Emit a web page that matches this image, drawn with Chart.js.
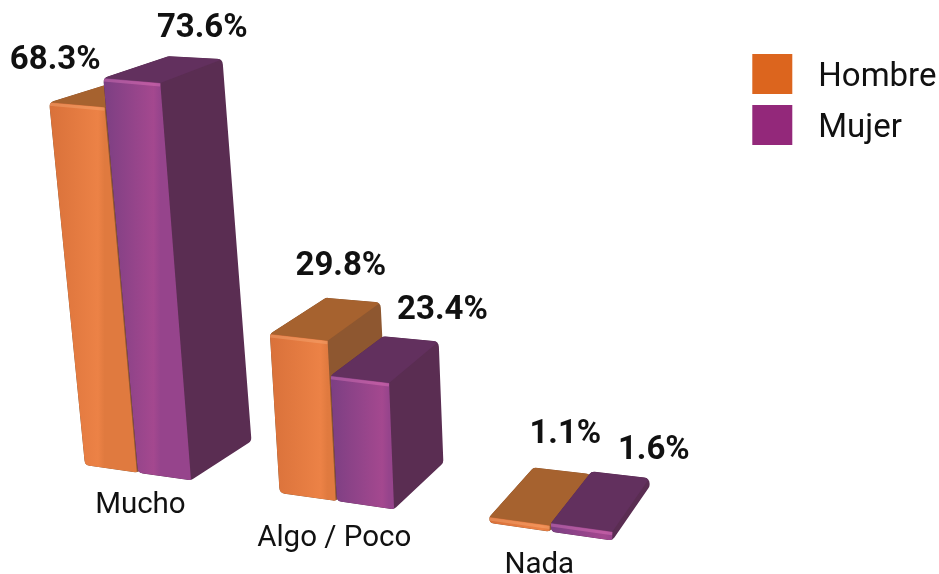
<!DOCTYPE html>
<html>
<head>
<meta charset="utf-8">
<title>Mucho / Algo / Nada</title>
<script src="https://cdn.jsdelivr.net/npm/chart.js@4/dist/chart.umd.js"></script>
<style>
  html, body { margin: 0; background: #fff; }
  canvas { display: block; }
</style>
</head>
<body>
<canvas id="chart" width="939" height="574"></canvas>
<script>
// Data
const categories = ['Mucho', 'Algo / Poco', 'Nada'];
const hombre = [68.3, 29.8, 1.1];
const mujer = [73.6, 23.4, 1.6];

// Colours
const legendColors = ['#dc651e', '#93287a'];
const faces = [
  { top: '#a6622f', side: '#8e5730', left: '#d9713a', right: '#ec8246', edge: '#e07a3f', glow: 'rgba(255,190,140,0.3)' },
  { top: '#62305e', side: '#5a2d52', left: '#7c3f83', right: '#a4488f', edge: '#96448c', glow: 'rgba(240,130,200,0.35)' }
];

// Fake perspective, applied on top of the scale pixels
const SHEAR = 0.143;      // floor line falls to the right
const LEAN = 0.115;       // verticals lean left...
const LEAN_FADE = 0.00019; // ...less and less further right
const warpX = (x) => x + 0.000178 * (x - 137) * (x - 548);

function floorPoint(x, zeroY) {
  const sx = warpX(x);
  return { x: sx, y: zeroY + SHEAR * sx };
}

function lift(p, h) {
  return {
    x: p.x - h * (LEAN - LEAN_FADE * p.x),
    y: p.y - h * (1 + 0.00013 * (p.x - 200) + 0.0001 * (h - 190))
  };
}

function back(p) {
  return {
    x: p.x + 71 - 0.055 * p.x,
    y: p.y - (15.9 + 0.03 * p.x + 0.0366 * p.y)
  };
}

function barCorners(bar) {
  const h = bar.base - bar.y;
  const fl = floorPoint(bar.x - bar.width / 2, bar.base);
  const fr = floorPoint(bar.x + bar.width / 2, bar.base);
  const tl = lift(fl, h);
  const tr = lift(fr, h);
  return { fl, fr, tl, tr, btl: back(tl), btr: back(tr), bbr: back(fr) };
}

function poly(ctx, pts) {
  ctx.beginPath();
  pts.forEach((p, i) => (i ? ctx.lineTo(p.x, p.y) : ctx.moveTo(p.x, p.y)));
  ctx.closePath();
}

function roundedPoly(ctx, pts, r) {
  const n = pts.length;
  const last = pts[n - 1];
  ctx.beginPath();
  ctx.moveTo((last.x + pts[0].x) / 2, (last.y + pts[0].y) / 2);
  pts.forEach((p, i) => {
    const next = pts[(i + 1) % n];
    ctx.arcTo(p.x, p.y, next.x, next.y, r);
  });
  ctx.closePath();
}

function drawBar(ctx, bar, look) {
  const c = barCorners(bar);
  const radius = Math.min(6, (c.fl.y - c.tl.y) / 2 + 2);

  ctx.save();
  roundedPoly(ctx, [c.tl, c.btl, c.btr, c.bbr, c.fr, c.fl], radius);
  ctx.clip();

  ctx.fillStyle = look.side;
  ctx.fillRect(0, 0, 939, 574);

  poly(ctx, [c.tl, c.btl, c.btr, c.tr]);
  ctx.fillStyle = look.top;
  ctx.fill();

  const g = ctx.createLinearGradient(c.tl.x, 0, c.tr.x, 0);
  g.addColorStop(0, look.left);
  g.addColorStop(0.88, look.right);
  g.addColorStop(1, look.edge);
  poly(ctx, [c.tl, c.tr, c.fr, c.fl]);
  ctx.fillStyle = g;
  ctx.fill();

  // soft bevel along the front top edge
  ctx.beginPath();
  ctx.moveTo(c.tl.x, c.tl.y + 2);
  ctx.lineTo(c.tr.x, c.tr.y + 2);
  ctx.strokeStyle = look.glow;
  ctx.lineWidth = 3;
  ctx.stroke();
  ctx.restore();
}

// Draws the 3D bars, the value labels, the category labels and the legend text
const fakeBars = {
  id: 'fakeBars',
  beforeDatasetsDraw(chart) {
    const ctx = chart.ctx;
    chart.data.datasets.forEach((ds, i) => {
      chart.getDatasetMeta(i).data.forEach((bar) => drawBar(ctx, bar, faces[i]));
    });
    return false;
  },
  afterDraw(chart) {
    const ctx = chart.ctx;
    ctx.save();
    ctx.textAlign = 'center';
    ctx.textBaseline = 'alphabetic';
    ctx.fillStyle = '#111';

    // value labels sit off the front top left corner of each bar
    const valueNudge = [
      [[6, -33], [71, -59], [76, -74]],
      [[99, -41], [112, -57], [103, -64]]
    ];
    ctx.font = 'bold 33px Roboto';
    chart.data.datasets.forEach((ds, i) => {
      chart.getDatasetMeta(i).data.forEach((bar, j) => {
        const tl = barCorners(bar).tl;
        ctx.fillText(ds.data[j].toFixed(1) + '%', tl.x + valueNudge[i][j][0], tl.y + valueNudge[i][j][1]);
      });
    });

    // category labels follow the floor line
    const labelNudge = [[3, -1], [-2, 4], [-11, 0]];
    const x = chart.scales.x;
    const zero = chart.scales.y.getPixelForValue(0);
    ctx.font = '29.5px Roboto';
    categories.forEach((name, i) => {
      const p = floorPoint(x.getPixelForValue(i), zero);
      ctx.fillText(name, p.x + labelNudge[i][0], p.y + 41 + labelNudge[i][1]);
    });

    // legend text, a bit further from the swatch and lower than the plugin puts it
    ctx.textAlign = 'left';
    ctx.textBaseline = 'middle';
    ctx.font = '33px Roboto';
    chart.legend.legendItems.forEach((item, i) => {
      const box = chart.legend.legendHitBoxes[i];
      ctx.fillText(item.text, box.left + 66, box.top + 24);
    });
    ctx.restore();
  }
};

new Chart(document.getElementById('chart'), {
  type: 'bar',
  plugins: [fakeBars],
  data: {
    labels: categories,
    datasets: [
      { label: 'Hombre', data: hombre, backgroundColor: legendColors[0] },
      { label: 'Mujer', data: mujer, backgroundColor: legendColors[1] }
    ]
  },
  options: {
    responsive: false,
    animation: false,
    categoryPercentage: 0.56,
    barPercentage: 0.98,
    layout: { padding: { left: 34.25, top: 43, bottom: 121, right: 2 } },
    plugins: {
      tooltip: { enabled: false },
      legend: {
        position: 'right',
        align: 'start',
        labels: {
          boxWidth: 40,
          boxHeight: 40,
          padding: 11,
          color: 'rgba(0,0,0,0)',
          font: { family: 'Roboto', size: 33 }
        }
      }
    },
    scales: {
      x: { display: false },
      y: {
        position: 'right',
        min: 0,
        max: 77.36,
        grid: { display: false },
        border: { display: false },
        ticks: { display: false },
        afterFit(scale) { scale.width = 88; }
      }
    }
  }
});
</script>
</body>
</html>
